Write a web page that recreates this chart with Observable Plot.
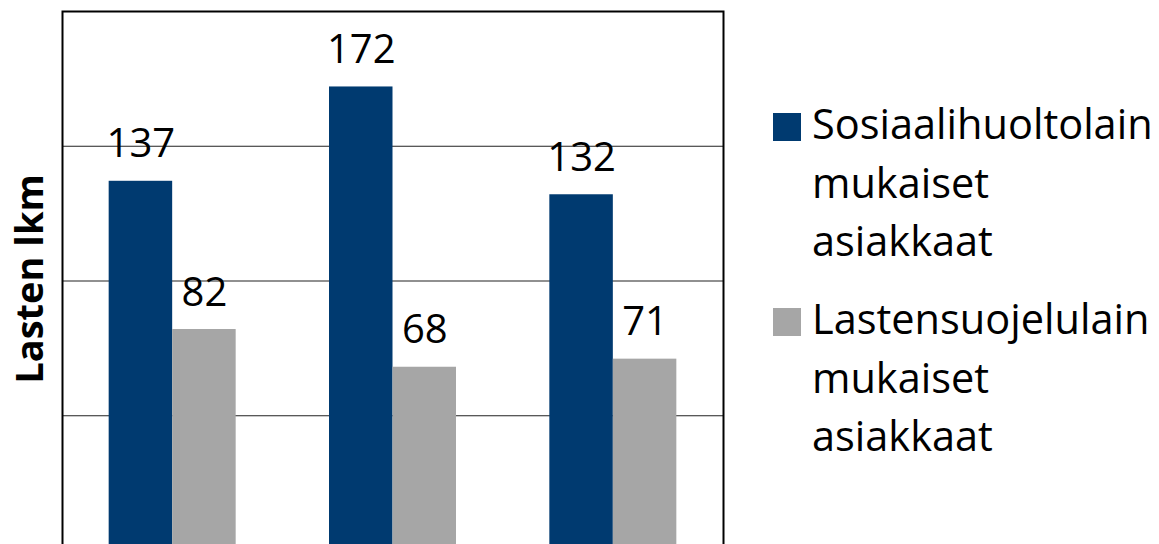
<!DOCTYPE html>
<html>
<head>
<meta charset="utf-8">
<script src="https://cdn.jsdelivr.net/npm/d3@7"></script>
<script src="https://cdn.jsdelivr.net/npm/@observablehq/plot@0.6"></script>
<style>
  html, body { margin: 0; padding: 0; overflow: hidden; background: #fff; }
  #wrap { position: relative; width: 1159px; height: 544px; overflow: hidden; font-family: "Open Sans", sans-serif; }
  #chart { position: absolute; left: 0; top: 0; }
  .leg { position: absolute; left: 773px; font-size: 41.5px; line-height: 58.5px; color: #000; }
  .leg .sw { position: absolute; left: 0; width: 28px; height: 28px; }
  .leg .tx { position: absolute; left: 39px; white-space: nowrap; }
</style>
</head>
<body>
<div id="wrap"><div id="chart"></div></div>
<script>
const groups = ["1", "2", "3"];
const seriesNames = ["Sosiaalihuoltolain mukaiset asiakkaat", "Lastensuojelulain mukaiset asiakkaat"];
const seriesColors = ["#003A70", "#A6A6A6"];
const sosiaalihuoltolain = [137, 172, 132];
const lastensuojelulain = [82, 68, 71];
const yTitle = "Lasten lkm";
const gridValues = [50, 100, 150];

const rows = [];
groups.forEach((g, i) => {
  rows.push({group: g, series: seriesNames[0], value: sosiaalihuoltolain[i]});
  rows.push({group: g, series: seriesNames[1], value: lastensuojelulain[i]});
});
const s0 = rows.filter(d => d.series === seriesNames[0]);
const s1 = rows.filter(d => d.series === seriesNames[1]);
const half = 31.75;

const chart = Plot.plot({
  width: 1159,
  height: 600,
  marginLeft: 62,
  marginRight: 436,
  marginTop: 11,
  marginBottom: 50,
  style: {fontFamily: "Open Sans", fontSize: "40px", background: "transparent", overflow: "visible"},
  x: {domain: groups, paddingInner: 0.4236, paddingOuter: 0.2118, round: false, axis: null},
  y: {domain: [0, 200], axis: null},
  color: {domain: seriesNames, range: seriesColors},
  marks: [
    Plot.ruleY(gridValues, {stroke: "#222", strokeWidth: 1.2}),
    Plot.barY(s0, {x: "group", y: "value", fill: "series", insetRight: 63.5}),
    Plot.barY(s1, {x: "group", y: "value", fill: "series", insetLeft: 63.5}),
    Plot.frame({stroke: "#000", strokeWidth: 2}),
    Plot.text(s0, {x: "group", y: "value", text: d => String(d.value), dx: -half, dy: -24, lineAnchor: "bottom", fontSize: 40, fill: "#000"}),
    Plot.text(s1, {x: "group", y: "value", text: d => String(d.value), dx: half, dy: -24, lineAnchor: "bottom", fontSize: 40, fill: "#000"}),
    Plot.text([yTitle], {frameAnchor: "left", text: d => d, rotate: -90, textAnchor: "middle", lineAnchor: "middle", dx: -32, dy: -2, fontSize: 38, fontWeight: "bold", fill: "#000"})
  ]
});
document.getElementById("chart").appendChild(chart);

// Legend
const wrap = document.getElementById("wrap");
const legTops = [94, 289];
const swTops = [19, 19];
seriesNames.forEach((name, i) => {
  const words = name.split(" ");
  const div = document.createElement("div");
  div.className = "leg";
  div.style.top = legTops[i] + "px";
  const sw = document.createElement("div");
  sw.className = "sw";
  sw.style.background = seriesColors[i];
  sw.style.top = swTops[i] + "px";
  const tx = document.createElement("div");
  tx.className = "tx";
  tx.innerHTML = words.join("<br>");
  div.appendChild(sw);
  div.appendChild(tx);
  wrap.appendChild(div);
});
</script>
</body>
</html>
